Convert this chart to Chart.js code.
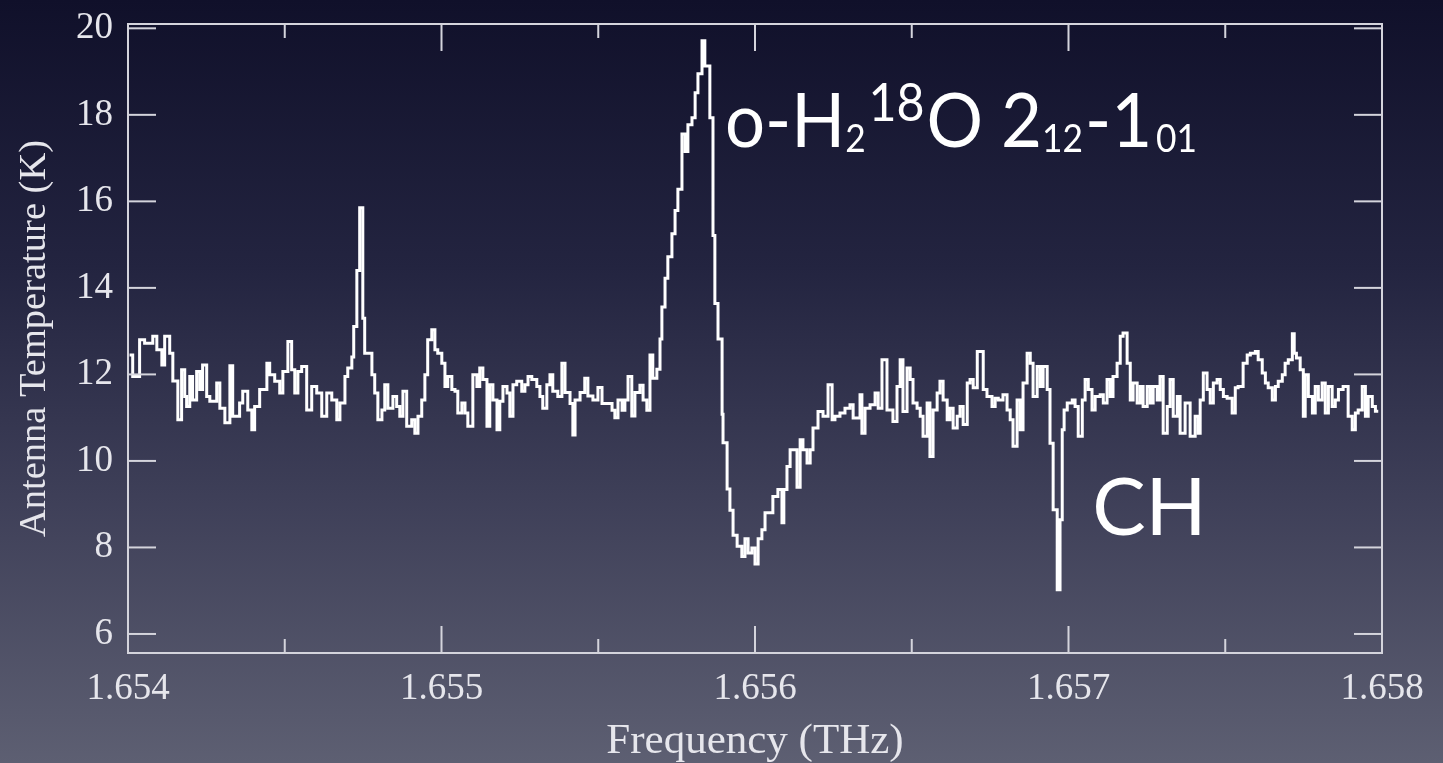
<!DOCTYPE html>
<html>
<head>
<meta charset="utf-8">
<title>o-H2 18O spectrum</title>
<script src="https://cdn.jsdelivr.net/npm/chart.js@4/dist/chart.umd.min.js"></script>
<style>
  html, body { margin: 0; padding: 0; }
  body {
    width: 1443px; height: 763px; overflow: hidden;
    background: linear-gradient(to bottom, #10102a 0%, #232440 35%, #3e3f58 65%, #5d5f72 100%);
  }
  #wrap { position: relative; width: 1443px; height: 763px; }
</style>
</head>
<body>
<div id="wrap"><canvas id="c" width="1443" height="763"></canvas></div>
<script>
// Channel start frequencies (THz) of the spectrum
const freqTHz = [
  1.654005, 1.654015, 1.654037, 1.654053, 1.654079, 1.654092, 1.654108, 1.654117, 1.654133, 1.654143,
  1.654159, 1.654171, 1.654181, 1.654187, 1.654197, 1.654206, 1.654219, 1.654229, 1.654238, 1.654251,
  1.654261, 1.654283, 1.654293, 1.654309, 1.654325, 1.654334, 1.654356, 1.654366, 1.654382, 1.654395,
  1.654404, 1.654420, 1.654443, 1.654452, 1.654468, 1.654484, 1.654494, 1.654510, 1.654522, 1.654532,
  1.654542, 1.654554, 1.654570, 1.654586, 1.654602, 1.654618, 1.654634, 1.654650, 1.654666, 1.654676,
  1.654692, 1.654701, 1.654714, 1.654720, 1.654730, 1.654739, 1.654749, 1.654755, 1.654778, 1.654787,
  1.654797, 1.654810, 1.654819, 1.654829, 1.654845, 1.654857, 1.654867, 1.654877, 1.654889, 1.654905,
  1.654915, 1.654925, 1.654937, 1.654947, 1.654956, 1.654969, 1.654979, 1.654988, 1.655001, 1.655011,
  1.655020, 1.655033, 1.655043, 1.655052, 1.655065, 1.655075, 1.655084, 1.655100, 1.655113, 1.655122,
  1.655132, 1.655145, 1.655154, 1.655164, 1.655177, 1.655186, 1.655196, 1.655209, 1.655218, 1.655228,
  1.655240, 1.655256, 1.655266, 1.655276, 1.655288, 1.655304, 1.655314, 1.655323, 1.655336, 1.655346,
  1.655355, 1.655371, 1.655384, 1.655394, 1.655410, 1.655419, 1.655426, 1.655442, 1.655457, 1.655467,
  1.655483, 1.655499, 1.655512, 1.655544, 1.655553, 1.655563, 1.655576, 1.655585, 1.655595, 1.655607,
  1.655617, 1.655633, 1.655643, 1.655655, 1.655665, 1.655674, 1.655687, 1.655697, 1.655703, 1.655713,
  1.655722, 1.655735, 1.655745, 1.655754, 1.655767, 1.655777, 1.655786, 1.655799, 1.655809, 1.655818,
  1.655831, 1.655840, 1.655856, 1.655866, 1.655872, 1.655882, 1.655895, 1.655898, 1.655911, 1.655920,
  1.655930, 1.655943, 1.655958, 1.655968, 1.655978, 1.655990, 1.656000, 1.656010, 1.656022, 1.656032,
  1.656057, 1.656073, 1.656086, 1.656092, 1.656102, 1.656112, 1.656134, 1.656144, 1.656153, 1.656166,
  1.656176, 1.656185, 1.656201, 1.656217, 1.656233, 1.656246, 1.656255, 1.656271, 1.656287, 1.656303,
  1.656313, 1.656335, 1.656341, 1.656351, 1.656367, 1.656383, 1.656393, 1.656405, 1.656421, 1.656440,
  1.656453, 1.656463, 1.656472, 1.656485, 1.656495, 1.656504, 1.656517, 1.656527, 1.656536, 1.656549,
  1.656558, 1.656568, 1.656581, 1.656590, 1.656600, 1.656613, 1.656622, 1.656632, 1.656645, 1.656654,
  1.656664, 1.656677, 1.656686, 1.656696, 1.656709, 1.656728, 1.656740, 1.656756, 1.656766, 1.656776,
  1.656791, 1.656804, 1.656814, 1.656823, 1.656836, 1.656846, 1.656855, 1.656868, 1.656878, 1.656887,
  1.656900, 1.656910, 1.656919, 1.656932, 1.656941, 1.656951, 1.656964, 1.656973, 1.656980, 1.656986,
  1.656996, 1.657012, 1.657021, 1.657031, 1.657044, 1.657053, 1.657063, 1.657075, 1.657085, 1.657101,
  1.657111, 1.657123, 1.657133, 1.657142, 1.657155, 1.657165, 1.657174, 1.657187, 1.657197, 1.657206,
  1.657219, 1.657229, 1.657238, 1.657251, 1.657261, 1.657270, 1.657283, 1.657292, 1.657302, 1.657315,
  1.657324, 1.657334, 1.657347, 1.657356, 1.657372, 1.657388, 1.657404, 1.657414, 1.657420, 1.657430,
  1.657442, 1.657452, 1.657462, 1.657474, 1.657484, 1.657494, 1.657506, 1.657522, 1.657532, 1.657541,
  1.657557, 1.657570, 1.657580, 1.657596, 1.657605, 1.657618, 1.657628, 1.657637, 1.657650, 1.657660,
  1.657669, 1.657682, 1.657691, 1.657701, 1.657714, 1.657720, 1.657727, 1.657739, 1.657749, 1.657755,
  1.657765, 1.657778, 1.657787, 1.657797, 1.657809, 1.657819, 1.657829, 1.657841, 1.657851, 1.657861,
  1.657876, 1.657892, 1.657905, 1.657915, 1.657924, 1.657937, 1.657947, 1.657956, 1.657969, 1.657979,
  1.657988
];

// Antenna temperature (K) per channel
const antennaTempK = [
  12.45, 11.95, 12.80, 12.72, 12.88, 12.57, 12.22, 12.88, 12.49, 11.85,
  10.95, 12.11, 11.49, 11.26, 11.95, 11.41, 12.07, 11.65, 12.22, 11.49,
  11.38, 11.80, 11.22, 10.88, 12.20, 11.03, 11.34, 11.61, 11.18, 10.72,
  11.26, 11.65, 12.26, 11.99, 11.84, 11.57, 12.07, 12.76, 12.11, 11.57,
  12.07, 12.18, 11.18, 11.72, 11.57, 11.03, 11.57, 11.41, 10.95, 11.34,
  11.95, 12.15, 12.40, 13.11, 14.40, 15.85, 13.30, 12.49, 11.99, 11.57,
  10.95, 11.18, 11.76, 11.22, 11.49, 11.26, 11.03, 11.61, 10.80, 10.95,
  10.64, 11.03, 11.41, 11.99, 12.80, 13.03, 12.57, 12.49, 12.26, 11.72,
  11.95, 11.65, 11.61, 11.11, 11.34, 11.11, 10.80, 11.99, 11.72, 12.15,
  11.88, 10.80, 11.76, 11.41, 10.72, 11.38, 11.72, 11.57, 11.03, 11.76,
  11.84, 11.61, 11.76, 11.95, 11.88, 11.72, 11.49, 11.22, 11.76, 11.99,
  11.61, 11.49, 12.26, 11.58, 11.33, 10.60, 11.41, 11.58, 11.91, 11.50,
  11.41, 11.70, 11.33, 11.17, 11.00, 11.41, 11.17, 11.41, 11.95, 11.04,
  11.58, 11.75, 11.41, 11.17, 12.45, 11.91, 12.12, 12.82, 13.56, 14.22,
  14.72, 15.25, 15.79, 16.28, 17.56, 17.15, 17.77, 17.93, 18.51, 18.95,
  19.71, 19.13, 17.93, 15.21, 13.64, 12.82, 11.08, 10.42, 9.35, 8.86,
  8.28, 8.03, 7.79, 8.20, 7.87, 7.99, 7.62, 8.20, 8.41, 8.80,
  9.18, 9.34, 8.57, 9.34, 9.87, 10.26, 9.39, 10.49, 10.26, 9.95,
  10.26, 10.76, 11.14, 11.03, 11.76, 10.95, 11.03, 11.11, 11.22, 11.30,
  10.99, 11.53, 10.64, 11.22, 11.30, 11.57, 11.22, 12.34, 11.18, 10.91,
  11.72, 12.34, 11.14, 12.15, 11.88, 11.34, 11.22, 11.03, 10.57, 11.34,
  10.10, 11.18, 11.57, 11.84, 11.41, 10.95, 11.22, 10.76, 11.03, 11.26,
  10.84, 11.80, 11.88, 11.69, 12.53, 11.65, 11.49, 11.26, 11.45, 11.41,
  11.53, 11.18, 10.95, 10.34, 11.41, 10.72, 11.80, 12.49, 12.26, 11.49,
  12.18, 11.72, 12.18, 11.65, 10.41, 8.87, 7.02, 8.64, 10.72, 11.18,
  11.34, 11.41, 11.26, 10.57, 11.41, 11.88, 11.65, 11.18, 11.49, 11.53,
  11.34, 11.88, 11.49, 11.95, 12.26, 12.88, 12.96, 12.26, 11.41, 11.80,
  11.34, 11.72, 11.26, 11.72, 11.34, 11.72, 11.41, 11.95, 10.64, 11.26,
  11.88, 11.03, 11.49, 10.64, 11.34, 10.57, 11.03, 10.64, 11.41, 12.03,
  11.65, 11.34, 11.80, 11.88, 11.65, 11.49, 11.45, 11.11, 11.69, 11.72,
  12.26, 12.45, 12.49, 12.53, 12.34, 12.03, 11.80, 11.69, 11.41, 11.72,
  11.84, 11.99, 12.26, 12.34, 12.94, 12.49, 12.38, 12.11, 11.03, 11.99,
  11.49, 11.11, 11.72, 11.41, 11.80, 11.11, 11.72, 11.26, 11.41, 11.65,
  11.72, 11.03, 10.72, 11.11, 11.18, 11.72, 11.03, 11.49, 11.26, 11.15,
  11.15
];

// Axis ticks
const xTickLabels = [1.654, 1.655, 1.656, 1.657, 1.658];
const xMinorTicks = [1.6545, 1.6555, 1.6565, 1.6575];
const yTickLabels = [6, 8, 10, 12, 14, 16, 18, 20];

// Line identifications placed in data coordinates
const waterLabelAt = { x: 1.655904, y: 17.26 };
const chLabelAt = { x: 1.6570755, y: 8.29 };

const INK = '#e6e6ec';
const FRAME = '#d4d4dc';
const SERIF = "'Liberation Serif', 'Times New Roman', serif";
const SANS = "Lato, 'Open Sans', sans-serif";

// Boxed frame with inward-pointing ticks on all four sides
const frameTicks = {
  id: 'frameTicks',
  afterDatasetsDraw(chart) {
    const { ctx, chartArea: a, scales: { x, y } } = chart;
    ctx.save();
    ctx.strokeStyle = FRAME;
    ctx.lineWidth = 2;
    ctx.strokeRect(a.left, a.top, a.right - a.left, a.bottom - a.top);
    const seg = (x1, y1, x2, y2) => { ctx.beginPath(); ctx.moveTo(x1, y1); ctx.lineTo(x2, y2); ctx.stroke(); };
    xTickLabels.forEach(v => {
      const px = x.getPixelForValue(v);
      seg(px, a.bottom, px, a.bottom - 27);
      seg(px, a.top, px, a.top + 27);
    });
    xMinorTicks.forEach(v => {
      const px = x.getPixelForValue(v);
      seg(px, a.bottom, px, a.bottom - 14);
      seg(px, a.top, px, a.top + 14);
    });
    yTickLabels.forEach(v => {
      const py = y.getPixelForValue(v);
      seg(a.left, py, a.left + 28, py);
      seg(a.right, py, a.right - 28, py);
    });
    ctx.restore();
  }
};

// Species labels: o-H2(18)O 2(12)-1(01) and CH
const lineLabels = {
  id: 'lineLabels',
  afterDraw(chart) {
    const { ctx, scales: { x, y } } = chart;
    ctx.save();
    ctx.fillStyle = '#ffffff';
    ctx.textBaseline = 'alphabetic';
    ctx.textAlign = 'left';
    const runs = [
      { t: 'o-H', size: 76, dy: 0 },
      { t: '2', size: 38, dy: 5, gap: 3 },
      { t: '18', size: 52, dy: -26, gap: 2 },
      { t: 'O 2', size: 76, dy: 0 },
      { t: '12', size: 38, dy: 5, gap: 2 },
      { t: '-1', size: 76, dy: 0, gap: 4 },
      { t: '01', size: 38, dy: 5 }
    ];
    const x0 = x.getPixelForValue(waterLabelAt.x);
    const by = y.getPixelForValue(waterLabelAt.y);
    ctx.translate(x0, by);
    ctx.scale(0.93, 1);
    let cx = 0;
    runs.forEach(r => {
      ctx.font = r.size + 'px ' + SANS;
      ctx.fillText(r.t, cx, r.dy);
      cx += ctx.measureText(r.t).width + (r.gap || 0);
    });
    ctx.setTransform(1, 0, 0, 1, 0, 0);
    ctx.font = '80px ' + SANS;
    ctx.fillText('CH', x.getPixelForValue(chLabelAt.x), y.getPixelForValue(chLabelAt.y));
    ctx.restore();
  }
};

const points = freqTHz.map((f, i) => ({ x: f, y: antennaTempK[i] }));

new Chart(document.getElementById('c'), {
  type: 'line',
  data: {
    datasets: [{
      data: points,
      stepped: 'before',
      borderColor: '#ffffff',
      borderWidth: 3,
      pointRadius: 0,
      fill: false,
      tension: 0
    }]
  },
  options: {
    responsive: false,
    animation: false,
    events: [],
    layout: { padding: { left: 0, right: 61, top: 24, bottom: 0 } },
    plugins: { legend: { display: false }, tooltip: { enabled: false } },
    scales: {
      x: {
        type: 'linear',
        min: 1.654,
        max: 1.658,
        grid: { display: false, drawTicks: false },
        border: { display: false },
        afterBuildTicks: s => { s.ticks = xTickLabels.map(v => ({ value: v })); },
        afterFit: s => { s.height = 110; },
        ticks: {
          autoSkip: false, maxRotation: 0, padding: 14,
          color: INK, font: { family: SERIF, size: 37 },
          callback: v => Number(v).toFixed(3)
        },
        title: {
          display: true, text: 'Frequency (THz)', color: INK,
          font: { family: SERIF, size: 43, lineHeight: 1.0 },
          padding: { top: 0, bottom: 0 }
        }
      },
      y: {
        type: 'linear',
        min: 5.56,
        max: 20.10,
        grid: { display: false, drawTicks: false },
        border: { display: false },
        afterBuildTicks: s => { s.ticks = yTickLabels.map(v => ({ value: v })); },
        afterFit: s => { s.width = 128; s.paddingTop = 0; s.paddingBottom = 0; },
        ticks: {
          padding: 15, color: INK, font: { family: SERIF, size: 37 },
          callback: v => String(v)
        },
        title: {
          display: true, text: 'Antenna Temperature (K)', color: INK,
          font: { family: SERIF, size: 38.5, lineHeight: 1.2 },
          padding: { top: 12, bottom: 0 }
        }
      }
    }
  },
  plugins: [frameTicks, lineLabels]
});
</script>
</body>
</html>
